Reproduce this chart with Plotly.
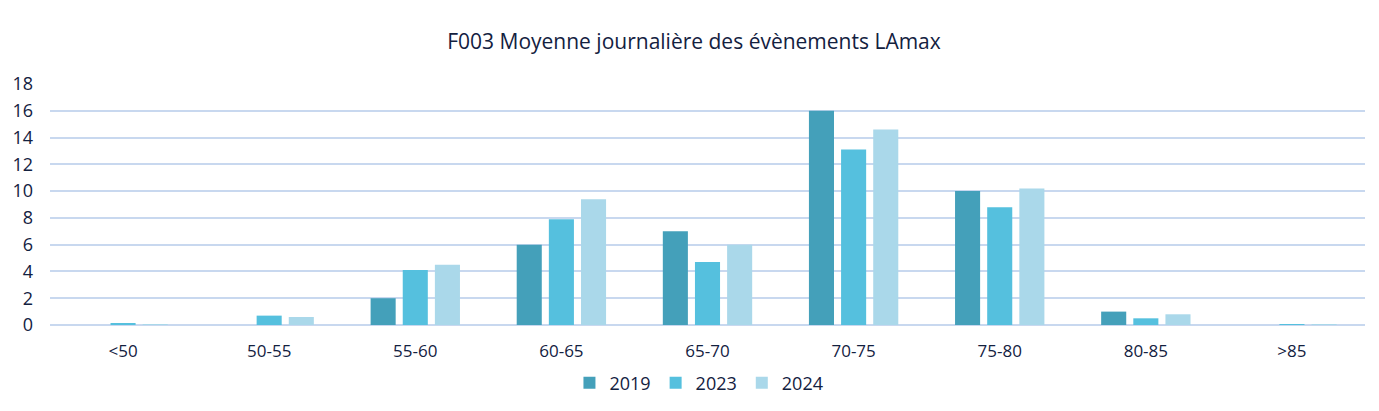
import plotly.graph_objects as go

categories = ["<50", "50-55", "55-60", "60-65", "65-70", "70-75", "75-80", "80-85", ">85"]
y2019 = [0, 0, 2, 6, 7, 16, 10, 1, 0]
y2023 = [0.1, 0.7, 4.1, 7.9, 4.7, 13.1, 8.8, 0.5, 0.05]
y2024 = [0.05, 0.6, 4.5, 9.4, 6.0, 14.6, 10.2, 0.8, 0.05]
years = ["2019", "2023", "2024"]
colors = ["#44A0BA", "#55C0DE", "#AAD8EA"]

font_family = "Open Sans, Liberation Sans, sans-serif"
text_color = "#13213F"

fig = go.Figure()
for name, vals, col in zip(years, [y2019, y2023, y2024], colors):
    fig.add_trace(go.Bar(x=categories, y=vals, name=name, marker=dict(color=col, line=dict(width=0))))

fig.update_layout(
    width=1379, height=411,
    margin=dict(l=42, r=22, t=76, b=94, autoexpand=False),
    paper_bgcolor="white", plot_bgcolor="white",
    barmode="group", bargap=0.34, bargroupgap=0.22,
    title=dict(text="F003 Moyenne journalière des évènements LAmax", x=686 / 1379, xanchor="center",
               y=1 - 34 / 411, yanchor="middle",
               font=dict(family=font_family, size=21, color=text_color)),
    font=dict(family=font_family, size=17, color=text_color),
    legend=dict(orientation="h", x=0.4935, xanchor="center", y=-58 / 241, yanchor="middle",
                font=dict(size=18, color=text_color), itemwidth=30, traceorder="normal"),
    showlegend=True,
)
fig.update_yaxes(range=[0, 18], dtick=2, showgrid=True, gridcolor="#C8D8EF", gridwidth=1.5,
                 zeroline=True, zerolinecolor="#C8D8EF", zerolinewidth=1.5,
                 showline=False, ticks="", ticklabelstandoff=16, automargin=False,
                 tickfont=dict(size=18, color=text_color))
fig.update_xaxes(showline=False, ticks="", showgrid=False, ticklabelstandoff=14, automargin=False,
                 tickfont=dict(size=17, color=text_color))

fig.write_html("out.html")
